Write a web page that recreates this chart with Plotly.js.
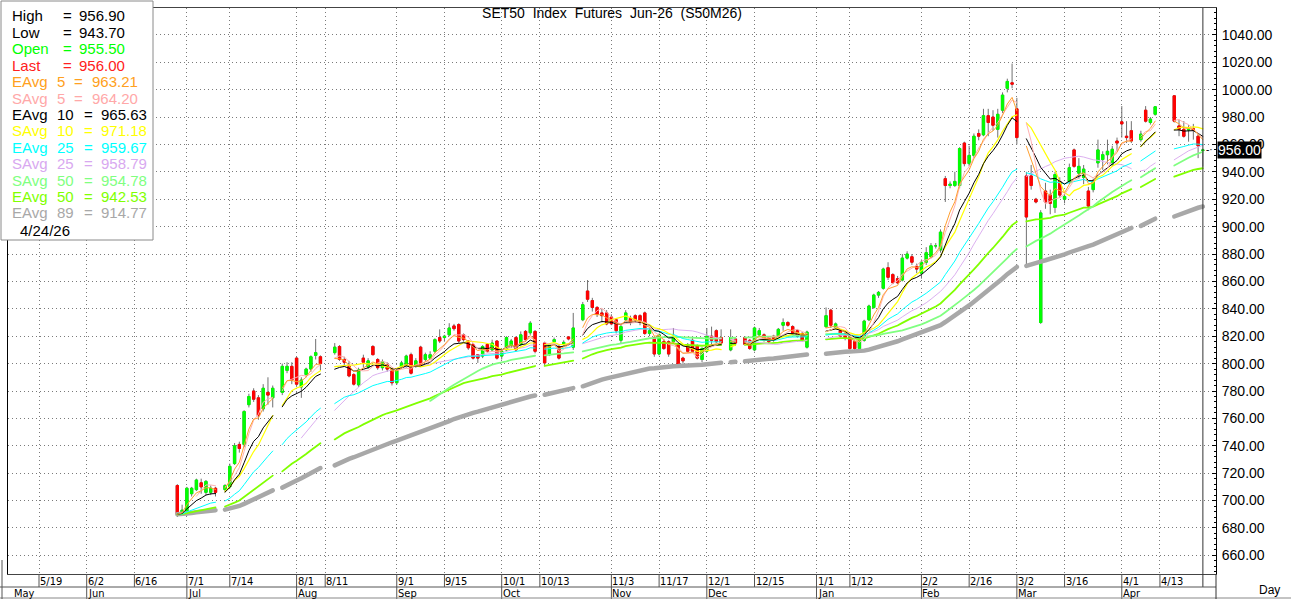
<!DOCTYPE html>
<html><head><meta charset="utf-8">
<script src="https://cdn.plot.ly/plotly-3.0.1.min.js"></script>
<style>html,body{margin:0;padding:0;background:#fff;overflow:hidden}#chart{width:1292px;height:599px}.js-line{stroke-linecap:round}</style>
</head><body><div id="chart"></div>
<script>
// ---------- data ----------
const dates = [
"2025-06-27","2025-06-30","2025-07-01","2025-07-02","2025-07-03","2025-07-04","2025-07-07","2025-07-08","2025-07-09","2025-07-11","2025-07-14","2025-07-15","2025-07-16","2025-07-17","2025-07-18","2025-07-21","2025-07-22","2025-07-23","2025-07-24","2025-07-25","2025-07-29","2025-07-30","2025-07-31",
"2025-08-01","2025-08-04","2025-08-05","2025-08-06","2025-08-07","2025-08-08","2025-08-13","2025-08-14","2025-08-15","2025-08-18","2025-08-19","2025-08-20","2025-08-21","2025-08-22","2025-08-25","2025-08-26","2025-08-27","2025-08-28","2025-08-29",
"2025-09-01","2025-09-02","2025-09-03","2025-09-04","2025-09-05","2025-09-08","2025-09-09","2025-09-10","2025-09-11","2025-09-12","2025-09-15","2025-09-16","2025-09-17","2025-09-18","2025-09-19","2025-09-22","2025-09-23","2025-09-24","2025-09-25","2025-09-26","2025-09-29","2025-09-30",
"2025-10-01","2025-10-02","2025-10-03","2025-10-06","2025-10-07","2025-10-08","2025-10-09","2025-10-10","2025-10-14","2025-10-15","2025-10-16","2025-10-17","2025-10-20","2025-10-21","2025-10-22","2025-10-24","2025-10-27","2025-10-28","2025-10-29","2025-10-30","2025-10-31",
"2025-11-03","2025-11-04","2025-11-05","2025-11-06","2025-11-07","2025-11-10","2025-11-11","2025-11-12","2025-11-13","2025-11-14","2025-11-17","2025-11-18","2025-11-19","2025-11-20","2025-11-21","2025-11-24","2025-11-25","2025-11-26","2025-11-27","2025-11-28",
"2025-12-01","2025-12-02","2025-12-03","2025-12-04","2025-12-08","2025-12-09","2025-12-11","2025-12-12","2025-12-15","2025-12-16","2025-12-17","2025-12-18","2025-12-19","2025-12-22","2025-12-23","2025-12-24","2025-12-25","2025-12-26","2025-12-29","2025-12-30",
"2026-01-05","2026-01-06","2026-01-07","2026-01-08","2026-01-09","2026-01-12","2026-01-13","2026-01-14","2026-01-15","2026-01-16","2026-01-19","2026-01-20","2026-01-21","2026-01-22","2026-01-23","2026-01-26","2026-01-27","2026-01-28","2026-01-29","2026-01-30",
"2026-02-02","2026-02-03","2026-02-04","2026-02-05","2026-02-06","2026-02-09","2026-02-10","2026-02-11","2026-02-12","2026-02-13","2026-02-16","2026-02-17","2026-02-18","2026-02-19","2026-02-20","2026-02-23","2026-02-24","2026-02-25","2026-02-26","2026-02-27",
"2026-03-02","2026-03-04","2026-03-05","2026-03-06","2026-03-09","2026-03-10","2026-03-11","2026-03-12","2026-03-13","2026-03-16","2026-03-17","2026-03-18","2026-03-19","2026-03-20","2026-03-23","2026-03-24","2026-03-25","2026-03-26","2026-03-27","2026-03-30","2026-03-31",
"2026-04-01","2026-04-02","2026-04-03","2026-04-07","2026-04-08","2026-04-09","2026-04-10","2026-04-16","2026-04-17","2026-04-20","2026-04-21","2026-04-22","2026-04-23","2026-04-24"];
const openP = [
711,691,691,705,708,713,706,706,709,708,710,727,741,741,770,780,775,767,779,775,779,795,798,
804,783,792,796,806,805,808,812.5,803,798,792,784.5,804,797.5,812.5,803,797,799,795.5,
786,797.5,798,806.5,798,812,803,804,809,819,819,821,827.5,828.5,821,816.5,814,806.5,805.5,814,810,816.5,
805.5,810,812.5,819,814,823.5,822.5,823.5,815,806.5,816,812.5,814.5,819.5,812,832,853,846,841,837,837,
834,832,817,832,833,835,835,837,822,819,807,816,816,816,814,804,813,817,813,803,
809,820,824,819,810,818,819,817,810,821,821,819,820,820,828,830,827,824,822,812,
827,839,826,824,822,819,816,811,817,832,841,850,855,870,865,862,861,877,878,871,
866,874,878,886,883,935,930,930,930,961,946,952,968,967,981,980,971,985,1001,1005,
986,937,937,920,830,926,923,914,933,920,933,956,939,936,926,927,946.5,949,952.5,945.5,962.5,
976.5,966,970,963.5,985,976,982,995.5,973.5,971,970.5,971.5,966,955.5];
const highP = [
712,697,710,710,716,716,715,711,710,712,727,742,743,766,778,782,777,785,790,784,800,801,801,
805,790,797,806,818,806,815,813.5,805,802,793,797,806.5,804,813.5,804,803,801,797,
796,802,806.5,808,804,813,808,809,818.5,825,821,829.5,829,829.5,822,817,815,807,813.5,815,817.5,817,
810,820,818,820,823.5,824.5,831,824.5,816,815,819,814,817,820,837,845,861,848,842,840,839,
836,833,829,839,835,836,836,838,826,820,822,818,817,826,815,805,815,819,814,812,
826,827,825,825,825,819,820,818,827,826,822,820,821,826,833,831,828,825,823,824,
841,840,830,825,823,820,817,818,832,843,851,853,870,874,866,864,880,882,880,873,
876,885,888,888,898,937,933,940,958,962,959,968,971,986,986,985,986,998,1008,1019,
994,940,945,921,912,932,927,940,936,924,946,957,950,945,929,935,963.5,955,963.5,959,965,
988,977,977,970,988,980,988,996,978,977,974,975,967.5,956.9];
const lowP = [
688,689,689,703,707,705,704,704,703,706,709,726,735,739,768,772,759,765,770,768,777,793,785,
783,775,790,794,803,795,806.5,802,799,790,784,783,797,796,806,795.5,795,794,784,
784.5,796.5,797,792,797,798,801.5,803,807.5,815,816,820,824,815,816,810,803,800.5,804,808,809,803,
803,809,811.5,809,812.5,816,821,807.5,798,805.5,815,803,813,817,810,831,845,838,834,830,828,
828,822,815,831,828,830,828,821,820,805,806,810,805,815,798,800,808,808,803,801,
808,813,815,814,809,813,813,810,809,820,816,815,816,819,824,827,821,819,816,811,
826,826,825,819,817,810,808,810,816,831,840,848,854,861,858,858,860,876,872,866,
862,872,877,884,881,918,928,929,928,944,944,950,963,966,966,970,965,983,998,1001,
960,872,927,917,829,913,909,910,921,917,931,943,935,931,912,925,943,941.5,945.5,944,955,
965,961,961,962,976,974.5,981,976,966,965,962,963.5,950,943.7];
const closeP = [
690,693,709,709,715,710,714,709,706,711,725,740,738,765,776,774,762,782,777,782,798,798,788,
785,788,796,805,808,800,812,803,801,791,785,795.5,801,802,806.5,797,801.5,796,786,
795,800.5,805.5,793,802,799,806.5,806.5,817.5,816.5,820,826,825.5,816.5,817.5,811.5,804,804,812.5,809,815,804,
809,819,816.5,810,821,817.5,829.5,809,800.5,814,817.5,804,815.5,818,826,843,847,841,836,835,829,
829,824,827,837,830,832,830,822,824,807,821,811,807,820,799,802,809,809,804,811,
820,817,816,815,819,815,814,811,826,824,817,816,817,825,830,828,822,820,817,823,
835,828,829,820,819,811,811,817,831,842,850,852,869,863,859,859,877,880,874,869,
874,881,886,886,896,930,931,933,957,946,952,966,966,981,976,974,982,996,1006,1004,
965,907,930,918,910,918,917,938,923,922,943,944,944,942,915,933,956,952.5,955,956.5,961,
975,965,962.5,967.5,977,978.5,987.5,977,971,966,971,970.5,959,956.0];

// x-axis labels
const tickDates = ["2025-05-19","2025-06-02","2025-06-16","2025-07-01","2025-07-14","2025-08-01","2025-08-11","2025-09-01","2025-09-15","2025-10-01","2025-10-13","2025-11-03","2025-11-17","2025-12-01","2025-12-15","2026-01-01","2026-01-12","2026-02-02","2026-02-16","2026-03-02","2026-03-16","2026-04-01","2026-04-13"];
const tickLabels = ["5/19","6/2","6/16","7/1","7/14","8/1","8/11","9/1","9/15","10/1","10/13","11/3","11/17","12/1","12/15","1/1","1/12","2/2","2/16","3/2","3/16","4/1","4/13"];
const monthDates = ["2025-06-02","2025-07-01","2025-08-01","2025-09-01","2025-10-01","2025-11-03","2025-12-01","2026-01-01","2026-02-02","2026-03-02","2026-04-01"];
const monthLabels = ["Jun","Jul","Aug","Sep","Oct","Nov","Dec","Jan","Feb","Mar","Apr"];
const firstMonthLabel = "May";

// info box
const infoNames   = ["High","Low","Open","Last","EAvg","SAvg","EAvg","SAvg","EAvg","SAvg","SAvg","EAvg","EAvg"];
const infoPeriods = ["","","","","5","5","10","10","25","25","50","50","89"];
const infoValues  = ["956.90","943.70","955.50","956.00","963.21","964.20","965.63","971.18","959.67","958.79","954.78","942.53","914.77"];
const infoDate = "4/24/26";
const lastPriceLabel = "956.00";
const chartTitle = "SET50\u00a0\u00a0Index\u00a0\u00a0Futures\u00a0\u00a0Jun-26\u00a0\u00a0(S50M26)";

// ---------- styles ----------
const infoColors = ["#000000","#000000","#00ff00","#ff2020","#ffa020","#ffa8a8","#000000","#ffff00","#00ffff","#d8a8f0","#80ff80","#80ff00","#a8a8a8"];
const maSpecs = [ // kind, period, color, width  (drawing order)
  ["E",89,"#a8a8a8",4.5],["E",50,"#80ff00",1.8],["S",50,"#80ff80",1.8],["S",25,"#dcb0f0",1],
  ["E",25,"#00ffff",1],["S",10,"#ffff00",1.2],["E",10,"#000000",1],["S",5,"#ffb0b0",1],["E",5,"#ffa030",1]
];

// ---------- helpers ----------
const BASE = Date.UTC(2025,4,19);
function wd(s){const p=s.split('-').map(Number);const d=Math.round((Date.UTC(p[0],p[1]-1,p[2])-BASE)/864e5);return Math.floor(d/7)*5+Math.min(d%7,5);}
const xs = dates.map(wd);
function ema(n){const a=2/(n+1);let e=null;return closeP.map(c=>{e=(e===null)?c:e+a*(c-e);return e;});}
function sma(n){return closeP.map((c,i)=>{if(i<n-1)return null;let s=0;for(let k=i-n+1;k<=i;k++)s+=closeP[k];return s/n;});}
function gapped(ys){const X=[],Y=[];for(let i=0;i<xs.length;i++){if(i>0&&xs[i]-xs[i-1]>1){X.push((xs[i]+xs[i-1])/2);Y.push(null);}X.push(xs[i]);Y.push(ys[i]);}return {X,Y};}
const PL=8, PR=1216, PT=8, PB=574;
const px = X => (X-PL)/(PR-PL);
const py = Y => (PB-Y)/(PB-PT);

// ---------- traces ----------
const traces = [];
traces.push({type:'candlestick',x:xs,open:openP,high:highP,low:lowP,close:closeP,
  increasing:{line:{color:'#707070',width:1},fillcolor:'#707070'},
  decreasing:{line:{color:'#707070',width:1},fillcolor:'#707070'},
  whiskerwidth:0,hoverinfo:'skip',showlegend:false});
traces.push({type:'candlestick',x:xs,open:openP,close:closeP,
  high:openP.map((o,i)=>Math.max(o,closeP[i])),low:openP.map((o,i)=>Math.min(o,closeP[i])),
  increasing:{line:{color:'#00ff00',width:1},fillcolor:'#00ff00'},
  decreasing:{line:{color:'#ff0000',width:1},fillcolor:'#ff0000'},
  whiskerwidth:0,hoverinfo:'skip',showlegend:false});
maSpecs.forEach(s=>{const g=gapped(s[0]==='E'?ema(s[1]):sma(s[1]));
  traces.push({type:'scatter',mode:'lines',x:g.X,y:g.Y,line:{color:s[2],width:s[3]},connectgaps:false,hoverinfo:'skip',showlegend:false});});

// ---------- layout ----------
const F = 'Liberation Sans, Arial, sans-serif';
const FN = 'Liberation Sans Narrow, Arial Narrow, DejaVu Sans Condensed, sans-serif';
const tickIdx = tickDates.map(wd), monthIdx = monthDates.map(wd);
const lastIdx = xs[xs.length-1];
const ann = [], shp = [];
tickIdx.forEach((t,i)=>{
  ann.push({xref:'x',yref:'paper',x:t,y:py(581),xanchor:'left',yanchor:'middle',showarrow:false,text:tickLabels[i],font:{family:FN,size:11,color:'#000'},borderpad:0});
  shp.push({type:'line',xref:'x',yref:'paper',x0:t,x1:t,y0:0,y1:py(587),line:{color:'#555',width:1}});
});
monthIdx.forEach((t,i)=>{
  ann.push({xref:'x',yref:'paper',x:t,y:py(593.5),xanchor:'left',yanchor:'middle',showarrow:false,text:monthLabels[i],font:{family:FN,size:11,color:'#000'},borderpad:0});
  shp.push({type:'line',xref:'x',yref:'paper',x0:t,x1:t,y0:py(587),y1:py(599),line:{color:'#555',width:1}});
});
ann.push({xref:'paper',yref:'paper',x:px(13),y:py(593.5),xanchor:'left',yanchor:'middle',showarrow:false,text:firstMonthLabel,font:{family:FN,size:11,color:'#000'},borderpad:0});
// last-bar marker line
shp.push({type:'line',xref:'x',yref:'paper',x0:lastIdx,x1:lastIdx,y0:py(587),y1:1,line:{color:'#333',width:1}});
shp.push({type:'line',xref:'paper',yref:'paper',x0:px(0),x1:1,y0:py(587),y1:py(587),line:{color:'#555',width:1}});
shp.push({type:'line',xref:'paper',yref:'paper',x0:px(0),x1:px(1291),y0:py(598),y1:py(598),line:{color:'#888',width:1}});
shp.push({type:'line',xref:'paper',yref:'paper',x0:1,x1:1,y0:0,y1:py(599),line:{color:'#333',width:1}});
shp.push({type:'line',xref:'paper',yref:'paper',x0:px(2),x1:px(2),y0:py(560),y1:py(599),line:{color:'#555',width:1}});
// info box
shp.push({type:'rect',xref:'paper',yref:'paper',x0:px(1),x1:px(153),y0:py(240),y1:py(1),fillcolor:'#ffffff',line:{color:'#8a8a8a',width:1},layer:'above'});
infoNames.forEach((n,i)=>{
  const Y = 16 + 16.4*i, c = infoColors[i], f = {family:F,size:15,color:c};
  const per = infoPeriods[i];
  const eqX = per==='' ? 62 : (per.length===1 ? 73 : 83);
  const vX = per==='' ? 78 : (per.length===1 ? 91 : 100);
  ann.push({xref:'paper',yref:'paper',x:px(11),y:py(Y),xanchor:'left',yanchor:'middle',showarrow:false,text:n,font:f,borderpad:0});
  if(per!=='') ann.push({xref:'paper',yref:'paper',x:px(56),y:py(Y),xanchor:'left',yanchor:'middle',showarrow:false,text:per,font:f,borderpad:0});
  ann.push({xref:'paper',yref:'paper',x:px(eqX),y:py(Y),xanchor:'left',yanchor:'middle',showarrow:false,text:'=',font:f,borderpad:0});
  ann.push({xref:'paper',yref:'paper',x:px(vX),y:py(Y),xanchor:'left',yanchor:'middle',showarrow:false,text:infoValues[i],font:f,borderpad:0});
});
ann.push({xref:'paper',yref:'paper',x:px(19),y:py(230),xanchor:'left',yanchor:'middle',showarrow:false,text:infoDate,font:{family:F,size:15,color:'#000'},borderpad:0});
// last price box
ann.push({xref:'paper',yref:'y',x:1,y:closeP[closeP.length-1],xanchor:'left',yanchor:'middle',xshift:1,showarrow:false,text:lastPriceLabel,bgcolor:'#000',font:{family:F,size:14,color:'#fff'},borderpad:0});
ann.push({xref:'paper',yref:'y',x:1,y:closeP[closeP.length-1],xanchor:'right',yanchor:'middle',xshift:-2,showarrow:false,text:'-\u00b7',font:{family:F,size:10,color:'#000'},borderpad:0});
ann.push({xref:'paper',yref:'paper',x:px(1269),y:py(590),xanchor:'center',yanchor:'middle',showarrow:false,text:'Day',font:{family:F,size:12,color:'#000'}});

const layout = {
  width:1292,height:599,margin:{l:PL,r:1292-PR,t:PT,b:599-PB,pad:0},
  paper_bgcolor:'#ffffff',plot_bgcolor:'#ffffff',showlegend:false,
  title:{text:chartTitle,xref:'paper',x:0.5,xanchor:'center',yref:'container',y:1-13/599,yanchor:'middle',font:{family:F,size:14,color:'#000'}},
  xaxis:{range:[-6.5,246.75],tickmode:'array',tickvals:tickIdx,showticklabels:false,ticks:'',showgrid:true,gridcolor:'#7a7a7a',griddash:'1px,3px',gridwidth:1,zeroline:false,showline:true,linecolor:'#444',mirror:true,rangeslider:{visible:false},fixedrange:true},
  yaxis:{side:'right',range:[646.4,1059.6],tick0:0,dtick:20,tickformat:'.2f',showgrid:true,gridcolor:'#7a7a7a',griddash:'1px,3px',gridwidth:1,zeroline:false,showline:true,linecolor:'#000',mirror:true,ticks:'inside',ticklen:4,tickcolor:'#000',ticklabelstandoff:2,tickfont:{family:F,size:14,color:'#000'},minor:{ticks:'inside',ticklen:2,dtick:4,tickcolor:'#000',showgrid:false},fixedrange:true},
  annotations:ann,shapes:shp
};
Plotly.newPlot('chart',traces,layout,{staticPlot:true,displayModeBar:false});
</script></body></html>
